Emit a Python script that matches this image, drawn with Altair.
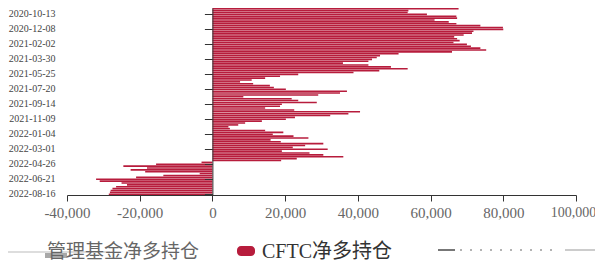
import altair as alt
import pandas as pd

# weekly report dates (categories)
dates = list(pd.date_range("2020-09-22", periods=100, freq="7D").strftime("%Y-%m-%d"))
label_dates = dates[3::8]

# CFTC net long positions
net_long = [
    67700, 53900, 53700, 59000, 67100, 67300, 61100, 65000, 67100, 73700,
    79900, 80000, 71800, 71400, 69100, 66500, 67300, 68000, 66300, 70000,
    71100, 73700, 75300, 65900, 51200, 46100, 45200, 43900, 42900, 35900,
    42900, 49100, 53700, 45900, 38800, 23600, 18600, 14500, 10800, 7600,
    11200, 15800, 16900, 20200, 37000, 35100, 29100, 8500, 21800, 23600,
    28700, 19100, 18600, 14500, 22500, 40600, 37400, 32400, 22700, 20200,
    13600, 9000, 7100, 4400, 4800, 14500, 19500, 16600, 22300, 26400,
    16000, 18800, 30500, 25500, 22100, 31700, 19100, 26700, 30500, 36000,
    23200, 18900,
    -3000, -15500, -24500, -18000, -22500, -18500, -3500, -13500, -21000, -32000,
    -31000, -25000, -23500, -26500, -27500, -28000, -28200, -28500,
]
x_ticks = [-40000, -20000, 0, 20000, 40000, 60000, 80000, 100000]
legend_names = ["管理基金净多持仓", "CFTC净多持仓"]

RED = "#b71c3c"
SERIF = "Liberation Serif, Noto Sans CJK SC"

df = pd.DataFrame({"date": dates, "value": net_long})
one = pd.DataFrame({"k": [0]})

y_scale = alt.Scale(paddingInner=0.15, paddingOuter=0)

bars = alt.Chart(df).mark_bar(color=RED).encode(
    x=alt.X(
        "value:Q",
        scale=alt.Scale(domain=[-40000, 100000], nice=False, zero=False),
        axis=alt.Axis(
            values=x_ticks, title=None, grid=False, labelFlush=False,
            labelExpr="datum.value < 0 ? '-' + format(-datum.value, ',') : format(datum.value, ',')",
            labelFont=SERIF,
            labelFontSize={"condition": {"test": "datum.value == 100000", "value": 14}, "value": 15},
            labelOffset={"condition": {"test": "datum.value == 100000", "value": -3}, "value": 0},
            labelColor="#666", labelPadding=4,
            domainColor="#333", tickColor="#333", tickSize=6,
        ),
    ),
    y=alt.Y(
        "date:N", sort=None, scale=y_scale,
        axis=alt.Axis(
            orient="left", values=label_dates, title=None, domain=False, ticks=False,
            labelPadding=12, labelFont=SERIF, labelFontSize=10, labelColor="#444",
        ),
    ),
)

zero_axis = alt.Chart(df).mark_point(opacity=0).encode(
    x=alt.X("value:Q"),
    y=alt.Y(
        "date:N", sort=None, scale=y_scale,
        axis=alt.Axis(
            orient="left", offset=-145.4, values=label_dates, title=None, labels=False,
            domain=True, domainColor="#333", ticks=True, tickSize=8, tickColor="#333",
            zindex=1,
        ),
    ),
)

# legend (bottom, drawn as decoration)
leg1_line = alt.Chart(one).mark_rule(color="#bbbbbb", strokeWidth=1).encode(
    x=alt.value(-62), x2=alt.value(43), y=alt.value(244))
leg1_box = alt.Chart(one).mark_rect(color="#a8a8a8").encode(
    x=alt.value(-22), x2=alt.value(0), y=alt.value(245), y2=alt.value(250))
leg1_text = alt.Chart(one).mark_text(
    text=legend_names[0], align="left", baseline="middle", font=SERIF,
    fontSize=19, color="#666").encode(x=alt.value(-20), y=alt.value(243.5))
leg2_icon = alt.Chart(one).mark_rect(color=RED, cornerRadius=4).encode(
    x=alt.value(170), x2=alt.value(188), y=alt.value(238), y2=alt.value(248))
leg2_text = alt.Chart(one).mark_text(
    text=legend_names[1], align="left", baseline="middle", font=SERIF,
    fontSize=20, color="#333").encode(x=alt.value(195), y=alt.value(243.5))
leg3_a = alt.Chart(one).mark_rule(color="#777777", strokeWidth=2).encode(
    x=alt.value(371), x2=alt.value(388), y=alt.value(242))
leg3_b = alt.Chart(one).mark_rule(color="#999999", strokeWidth=1.5, strokeDash=[2, 8]).encode(
    x=alt.value(393), x2=alt.value(493), y=alt.value(242))
leg3_c = alt.Chart(one).mark_rule(color="#cccccc", strokeWidth=2).encode(
    x=alt.value(498), x2=alt.value(528), y=alt.value(242))

chart = alt.layer(
    bars, zero_axis, leg1_line, leg1_box, leg1_text, leg2_icon, leg2_text,
    leg3_a, leg3_b, leg3_c,
).resolve_axis(y="independent").properties(
    width=509, height=187,
    autosize=alt.AutoSizeParams(type="none"),
    padding={"left": 59, "top": 0, "right": 19, "bottom": 68},
    background="white",
).configure_view(stroke=None)

chart.save("out.html", embed_options={"renderer": "svg", "actions": False})
